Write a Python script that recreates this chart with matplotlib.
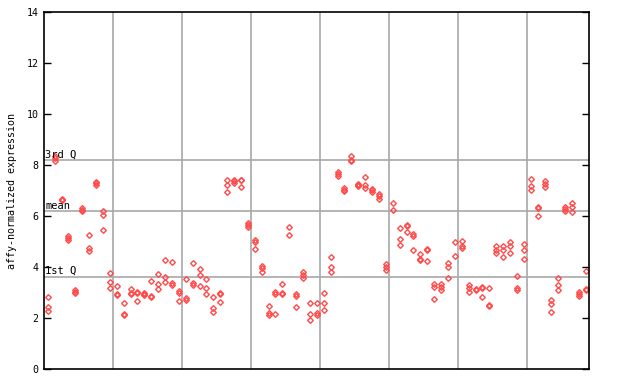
import matplotlib
matplotlib.use("Agg")
import matplotlib.pyplot as plt

# expression values per sample column (replicates)
sample_values = [
    [2.83, 2.46, 2.30],
    [8.38, 8.28, 8.18],
    [6.66, 6.64, 6.62],
    [5.24, 5.13, 5.07],
    [3.10, 3.05, 2.98],
    [6.33, 6.26, 6.22],
    [5.25, 4.74, 4.64],
    [7.36, 7.30, 7.22],
    [6.19, 6.05, 5.46],
    [3.76, 3.41, 3.18],
    [3.27, 2.95, 2.90],
    [2.59, 2.17, 2.12],
    [3.15, 3.00, 2.95],
    [3.03, 2.98, 2.66],
    [3.00, 2.96, 2.93],
    [3.45, 2.88, 2.84],
    [3.73, 3.35, 3.15],
    [4.27, 3.61, 3.41],
    [4.20, 3.37, 3.30],
    [3.08, 3.00, 2.66],
    [3.56, 2.78, 2.70],
    [4.15, 3.40, 3.32],
    [3.92, 3.68, 3.25],
    [3.53, 3.17, 2.97],
    [2.82, 2.39, 2.23],
    [2.98, 2.94, 2.62],
    [7.42, 7.22, 6.95],
    [7.42, 7.37, 7.30],
    [7.43, 7.41, 7.14],
    [5.74, 5.65, 5.57],
    [5.07, 4.98, 4.71],
    [4.06, 3.96, 3.80],
    [2.47, 2.22, 2.14],
    [3.02, 2.96, 2.15],
    [3.36, 2.99, 2.95],
    [5.57, 5.26],
    [2.96, 2.86, 2.43],
    [3.80, 3.68, 3.58],
    [2.59, 2.15, 1.92],
    [2.59, 2.20, 2.13],
    [2.99, 2.59, 2.32],
    [4.39, 4.00, 3.80],
    [7.75, 7.66, 7.58],
    [7.12, 7.05, 6.98],
    [8.38, 8.20, 8.16],
    [7.28, 7.23, 7.19],
    [7.53, 7.22, 7.10],
    [7.06, 7.02, 6.96],
    [6.86, 6.78, 6.67],
    [4.12, 4.00, 3.90],
    [6.51, 6.24],
    [5.53, 5.10, 4.86],
    [5.65, 5.61, 5.37],
    [5.32, 5.24, 4.68],
    [4.51, 4.32, 4.28],
    [4.72, 4.68, 4.23],
    [3.33, 3.24, 2.74],
    [3.34, 3.24, 3.10],
    [4.16, 4.02, 3.58],
    [4.98, 4.43],
    [5.04, 4.85, 4.76],
    [3.29, 3.20, 3.02],
    [3.14, 3.10],
    [3.21, 3.17, 2.82],
    [3.17, 2.51, 2.47],
    [4.82, 4.66, 4.58],
    [4.82, 4.67, 4.39],
    [5.00, 4.82, 4.58],
    [3.65, 3.17, 3.09],
    [4.90, 4.66, 4.31],
    [7.45, 7.18, 7.02],
    [6.38, 6.34, 6.00],
    [7.38, 7.28, 7.14],
    [2.70, 2.55, 2.24],
    [3.58, 3.29, 3.10],
    [6.36, 6.27, 6.19],
    [6.53, 6.37, 6.18],
    [3.04, 2.97, 2.88],
    [3.84, 3.14, 3.10],
]

group_bounds = [10, 20, 30, 40, 50, 60, 70]
quartile_names = ["1st Q", "mean", "3rd Q"]
quartile_values = [3.62, 6.19, 8.19]
y_ticks = [0, 2, 4, 6, 8, 10, 12, 14]

mono = "DejaVu Sans Mono"
red = "#ff4a4a"

fig = plt.figure(figsize=(6.4, 3.84), dpi=100)
ax = fig.add_axes((0.0692, 0.0383, 0.8517, 0.9297))

xs, ys = [], []
for i, vals in enumerate(sample_values):
    for v in vals:
        xs.append(i + 0.5)
        ys.append(v)

for b in group_bounds:
    ax.axvline(b, color="#a8a8a8", lw=1.2, zorder=1)
for name, q in zip(quartile_names, quartile_values):
    ax.axhline(q, color="#a8a8a8", lw=1.2, zorder=1)
    ax.text(0.15, q + 0.03, name, family=mono, fontsize=7.5, va="bottom", ha="left", zorder=3)

ax.plot(xs, ys, linestyle="none", marker="D", markersize=2.9, markerfacecolor="none",
        markeredgecolor=red, markeredgewidth=1.0, zorder=2)

ax.set_xlim(0, len(sample_values))
ax.set_ylim(0, 14)
ax.set_xticks([])
ax.set_yticks(y_ticks)
ax.set_yticklabels([str(t) for t in y_ticks], family=mono, fontsize=7.2)
ax.tick_params(axis="y", direction="in", length=5, width=1, right=True, pad=4)
for s in ax.spines.values():
    s.set_linewidth(1.2)
ax.set_ylabel("affy-normalized expression", family=mono, fontsize=7.2, labelpad=7)

fig.savefig("out.png", dpi=100)
